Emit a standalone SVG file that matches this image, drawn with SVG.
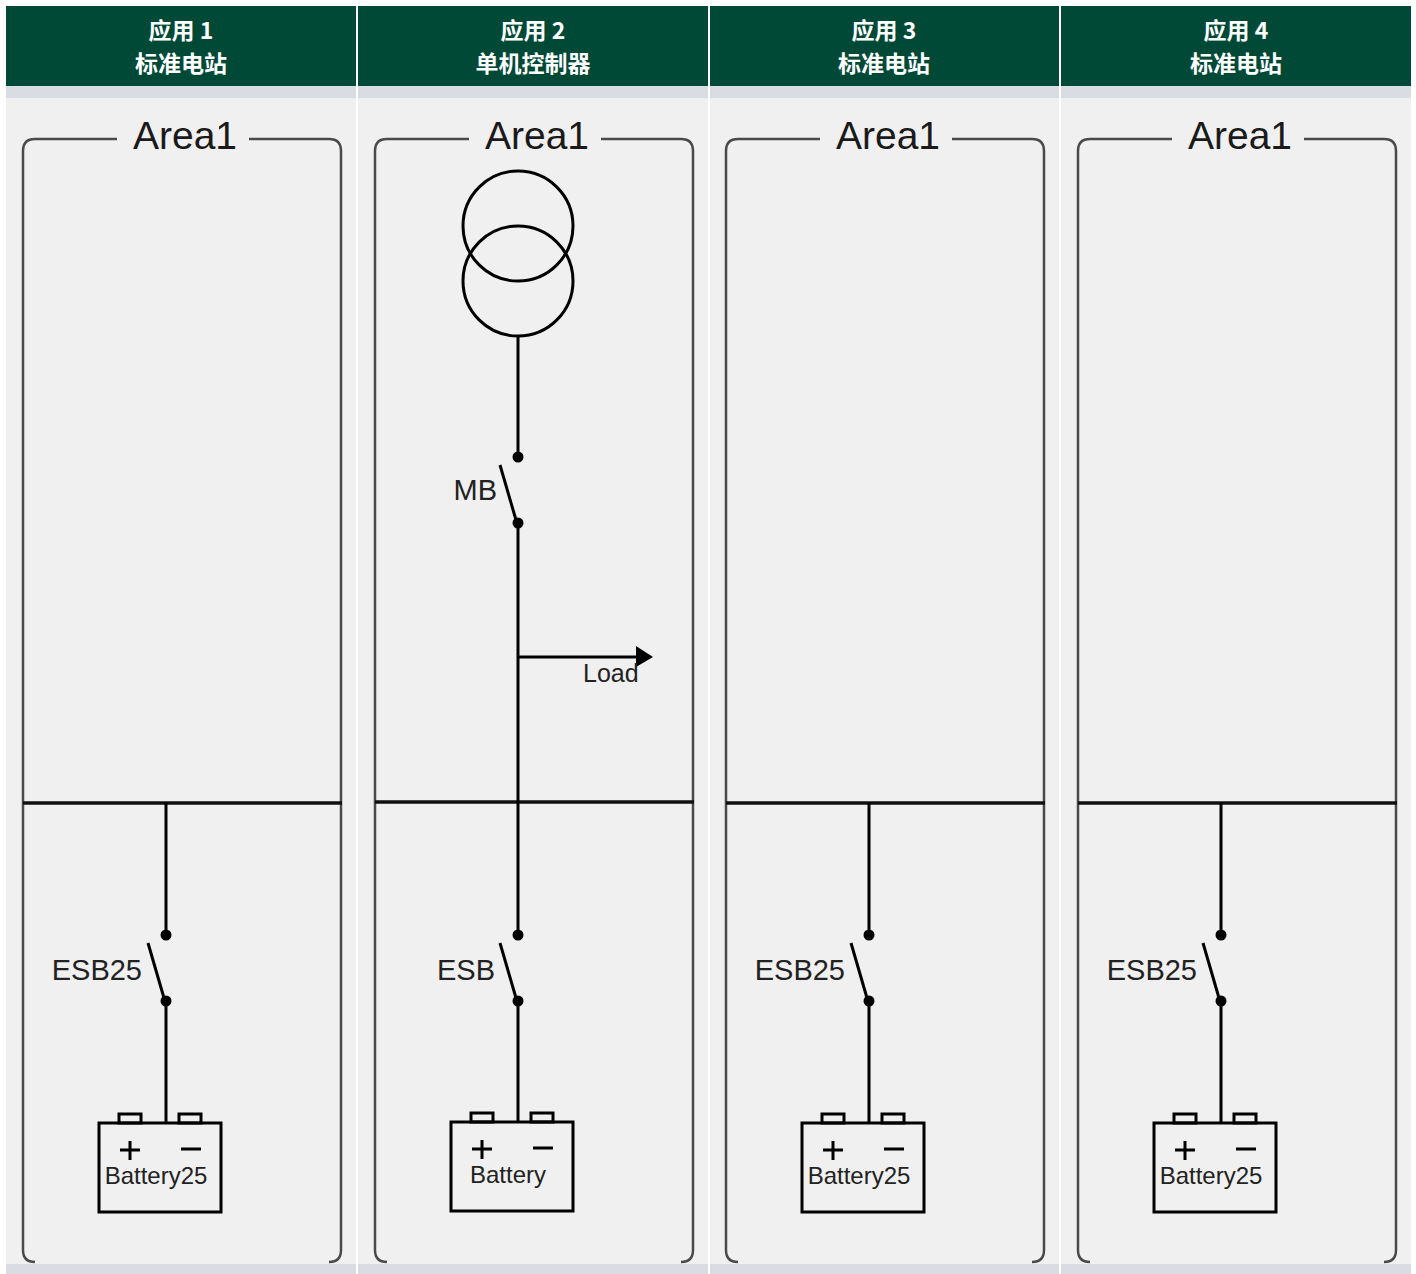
<svg xmlns="http://www.w3.org/2000/svg" width="1416" height="1274" viewBox="0 0 1416 1274">
<style>
.hdr{font-family:"Noto Sans CJK SC","Liberation Sans",sans-serif;font-weight:bold;font-size:23px;fill:#ffffff;text-anchor:middle}
.area{font-family:"Liberation Sans",Arial,sans-serif;font-size:39px;fill:#1a1a1a;text-anchor:middle}
.lbl{font-family:"Liberation Sans",Arial,sans-serif;font-size:29px;fill:#222;text-anchor:end}
.bat{font-family:"Liberation Sans",Arial,sans-serif;font-size:24px;fill:#222;text-anchor:middle}
.load{font-family:"Liberation Sans",Arial,sans-serif;font-size:25px;fill:#222}
.frame{fill:none;stroke:#4a4a4a;stroke-width:2.5}
.wire{fill:none;stroke:#000;stroke-width:3}
.bus{fill:none;stroke:#111;stroke-width:3.5}
.dot{fill:#000}
.box{fill:none;stroke:#000;stroke-width:3}
</style>
<defs>
<g id="frameShape">
<path class="frame" d="M117 139 H35 Q23 139 23 151 V1250 Q23 1262 35 1262"/>
<path class="frame" d="M249 139 H329 Q341 139 341 151 V1250 Q341 1262 329 1262"/>
</g>
<g id="switch">
<circle class="dot" cx="0" cy="0" r="5.5"/>
<circle class="dot" cx="0" cy="66" r="5.5"/>
<line class="wire" x1="-18" y1="8" x2="-2" y2="63" stroke-width="2.5"/>
</g>
<g id="battery">
<rect class="box" x="-67" y="0" width="122" height="89"/>
<rect class="box" x="-47" y="-9" width="22" height="9" stroke-width="2.5"/>
<rect class="box" x="13" y="-9" width="22" height="9" stroke-width="2.5"/>
<line class="wire" x1="-46" y1="27" x2="-26" y2="27"/>
<line class="wire" x1="-36" y1="18" x2="-36" y2="37"/>
<line class="wire" x1="15" y1="26" x2="35" y2="26"/>
</g>
</defs>
<rect x="0" y="0" width="1416" height="1274" fill="#ffffff"/>
<rect x="6" y="6" width="1405" height="80" fill="#014937"/>
<rect x="6" y="86" width="1405" height="12" fill="#d9dce2"/>
<rect x="6" y="98" width="1405" height="1166" fill="#f0f0f0"/>
<rect x="6" y="1264" width="1405" height="10" fill="#d9dce2"/>
<g id="separators" stroke="#ffffff" stroke-width="2">
<line x1="357" y1="6" x2="357" y2="1274"/>
<line x1="709" y1="6" x2="709" y2="1274"/>
<line x1="1060" y1="6" x2="1060" y2="1274"/>
</g>
<g id="headers">
<text class="hdr" x="181" y="39">应用 1</text>
<text class="hdr" x="181" y="72">标准电站</text>
<text class="hdr" x="533" y="39">应用 2</text>
<text class="hdr" x="533" y="72">单机控制器</text>
<text class="hdr" x="884" y="39">应用 3</text>
<text class="hdr" x="884" y="72">标准电站</text>
<text class="hdr" x="1236" y="39">应用 4</text>
<text class="hdr" x="1236" y="72">标准电站</text>
</g>
<g id="areas">
<g id="area1"><use href="#frameShape"/><text class="area" x="185" y="149">Area1</text></g>
<g id="area2" transform="translate(352,0)"><use href="#frameShape"/><text class="area" x="185" y="149">Area1</text></g>
<g id="area3" transform="translate(703,0)"><use href="#frameShape"/><text class="area" x="185" y="149">Area1</text></g>
<g id="area4" transform="translate(1055,0)"><use href="#frameShape"/><text class="area" x="185" y="149">Area1</text></g>
</g>
<g id="buses">
<line class="bus" x1="23" y1="803" x2="342" y2="803"/>
<line class="bus" x1="375" y1="802" x2="694" y2="802"/>
<line class="bus" x1="726" y1="803" x2="1045" y2="803"/>
<line class="bus" x1="1078" y1="803" x2="1397" y2="803"/>
</g>
<g id="connectors">
<line class="wire" x1="166" y1="803" x2="166" y2="935"/>
<line class="wire" x1="166" y1="1001" x2="166" y2="1123"/>
<line class="wire" x1="518" y1="336" x2="518" y2="457"/>
<line class="wire" x1="518" y1="523" x2="518" y2="935"/>
<line class="wire" x1="518" y1="1001" x2="518" y2="1122"/>
<line class="wire" x1="518" y1="657" x2="640" y2="657"/>
<polygon points="636,646 653,657 636,667" fill="#000"/>
<line class="wire" x1="869" y1="803" x2="869" y2="935"/>
<line class="wire" x1="869" y1="1001" x2="869" y2="1123"/>
<line class="wire" x1="1221" y1="803" x2="1221" y2="935"/>
<line class="wire" x1="1221" y1="1001" x2="1221" y2="1123"/>
</g>
<g id="transformer">
<circle cx="518" cy="226" r="55" fill="none" stroke="#000" stroke-width="3"/>
<circle cx="518" cy="281" r="55" fill="none" stroke="#000" stroke-width="3"/>
</g>
<g id="MB">
<use href="#switch" x="518" y="457"/>
<text class="lbl" x="497" y="500">MB</text>
</g>
<g id="Load"><text class="load" x="583" y="682">Load</text></g>
<g id="ESB25-1"><use href="#switch" x="166" y="935"/><text class="lbl" x="142" y="980">ESB25</text></g>
<g id="ESB-2"><use href="#switch" x="518" y="935"/><text class="lbl" x="495" y="980">ESB</text></g>
<g id="ESB25-3"><use href="#switch" x="869" y="935"/><text class="lbl" x="845" y="980">ESB25</text></g>
<g id="ESB25-4"><use href="#switch" x="1221" y="935"/><text class="lbl" x="1197" y="980">ESB25</text></g>
<g id="Battery25-1"><use href="#battery" x="166" y="1123"/><text class="bat" x="156" y="1184">Battery25</text></g>
<g id="Battery-2"><use href="#battery" x="518" y="1122"/><text class="bat" x="508" y="1183">Battery</text></g>
<g id="Battery25-3"><use href="#battery" x="869" y="1123"/><text class="bat" x="859" y="1184">Battery25</text></g>
<g id="Battery25-4"><use href="#battery" x="1221" y="1123"/><text class="bat" x="1211" y="1184">Battery25</text></g>
</svg>
